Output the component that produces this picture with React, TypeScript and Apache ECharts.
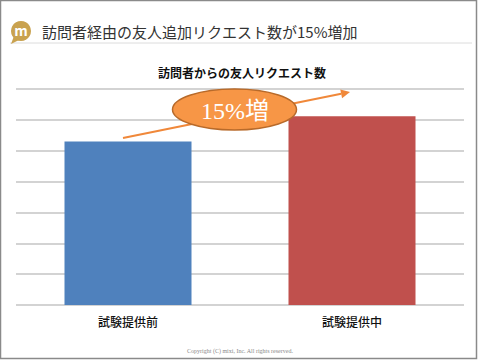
import React, { useEffect, useRef } from "react";
import * as echarts from "echarts";

const categories = ["試験提供前", "試験提供中"];
const requestValues = [5.3, 6.12];
const barColors = ["#4f81bd", "#c0504d"];
const yTicks = [0, 1, 2, 3, 4, 5, 6, 7];
const headerTitle = "訪問者経由の友人追加リクエスト数が15%増加";
const chartTitle = "訪問者からの友人リクエスト数";
const increaseLabel = "15%増";
const copyright = "Copyright (C) mixi, Inc. All rights reserved.";

const JP = '"Noto Sans CJK JP", "Noto Sans", sans-serif';

export default function App() {
  const ref = useRef<HTMLDivElement>(null);
  useEffect(() => {
    document.body.style.margin = "0";
    const chart = echarts.init(ref.current!, undefined, { renderer: "svg" });
    const tip = [350, 92];
    const start = [123, 138];
    const dx = tip[0] - start[0];
    const dy = tip[1] - start[1];
    const len = Math.sqrt(dx * dx + dy * dy);
    const ux = dx / len;
    const uy = dy / len;
    const nx = -uy;
    const ny = ux;
    const hl = 9;
    const hw = 4.5;
    const bx = tip[0] - ux * hl;
    const by = tip[1] - uy * hl;
    chart.setOption({
      animation: false,
      backgroundColor: "#ffffff",
      title: {
        text: chartTitle,
        left: 237,
        textAlign: "center",
        top: 61,
        textStyle: { fontFamily: JP, fontSize: 12, fontWeight: "bold", color: "#111" },
      },
      grid: { left: 16, right: 16, top: 89, bottom: 55, containLabel: false },
      xAxis: {
        type: "category",
        data: categories,
        axisLine: { show: false },
        axisTick: { show: false },
        axisLabel: { fontFamily: JP, fontSize: 12, fontWeight: 500, color: "#111", margin: 10 },
      },
      yAxis: {
        type: "value",
        min: yTicks[0],
        max: yTicks[yTicks.length - 1],
        interval: 1,
        axisLabel: { show: false },
        axisLine: { show: false },
        axisTick: { show: false },
        splitLine: { lineStyle: { color: "#c4c4c4", width: 1.5 } },
      },
      series: [
        {
          type: "bar",
          barWidth: 127,
          data: requestValues.map((v, i) => ({ value: v, itemStyle: { color: barColors[i] } })),
        },
      ],
      graphic: [
        { type: "rect", shape: { x: 0.5, y: 0.5, width: 476, height: 358 }, style: { fill: "none", stroke: "#8a8a8a", lineWidth: 1.5 }, z: 1 },
        { type: "line", shape: { x1: 10, y1: 43, x2: 472, y2: 43 }, style: { stroke: "#dcdcdc", lineWidth: 1 } },
        { type: "polygon", shape: { points: [[14, 36], [11, 44], [19, 40]] }, style: { fill: "#c9a24f" } },
        { type: "circle", shape: { cx: 21, cy: 31, r: 10 }, style: { fill: "#c9a24f" } },
        { type: "text", x: 21, y: 30, style: { text: "m", fill: "#fff", font: `bold 14px ${JP}`, align: "center", verticalAlign: "middle" } },
        { type: "text", x: 42, y: 31.5, style: { text: headerTitle, fill: "#333", font: `15px ${JP}`, verticalAlign: "middle" } },
        { type: "line", shape: { x1: start[0], y1: start[1], x2: bx, y2: by }, style: { stroke: "#f0883a", lineWidth: 2.2 }, z: 10 },
        { type: "polygon", shape: { points: [tip, [bx + nx * hw, by + ny * hw], [bx - nx * hw, by - ny * hw]] }, style: { fill: "#f0883a" }, z: 10 },
        { type: "ellipse", shape: { cx: 234.5, cy: 109.5, rx: 62, ry: 20.5 }, style: { fill: "#f79646", stroke: "#b86a2a", lineWidth: 1.5 }, z: 11 },
        { type: "text", x: 235, y: 111, style: { text: increaseLabel, fill: "#fff", font: `24px "Liberation Serif", "Noto Sans CJK JP", serif`, align: "center", verticalAlign: "middle" }, z: 12 },
        { type: "text", x: 240, y: 351, style: { text: copyright, fill: "#8a8a8a", font: `6px "Liberation Serif", serif`, align: "center", verticalAlign: "middle" } },
      ],
    });
    return () => chart.dispose();
  }, []);
  return <div ref={ref} style={{ position: "fixed", left: 0, top: 0, width: 480, height: 360 }} />;
}
